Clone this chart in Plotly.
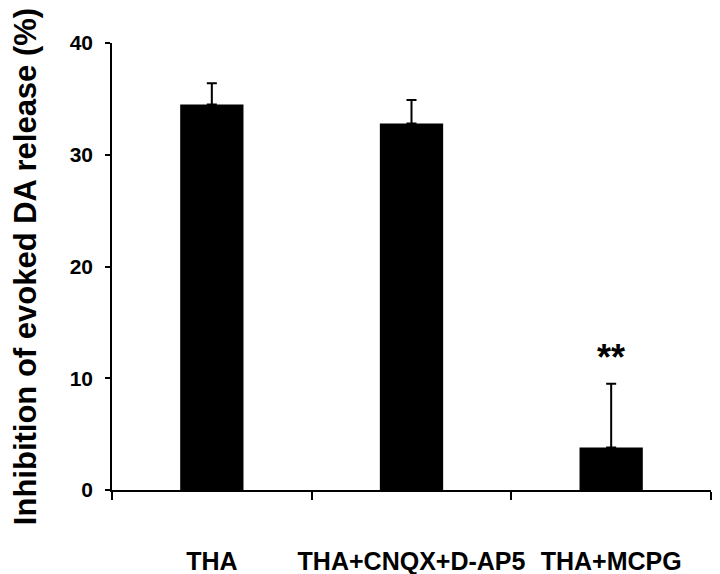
import plotly.graph_objects as go

categories = ["THA", "THA+CNQX+D-AP5", "THA+MCPG"]
inhibition = [34.5, 32.8, 3.8]
sem = [1.9, 2.1, 5.7]
significance = ["", "", "**"]
y_ticks = [0, 10, 20, 30, 40]

FONT = "Liberation Sans, Arial, Helvetica, sans-serif"

fig = go.Figure()
fig.add_trace(go.Bar(
    x=categories,
    y=inhibition,
    width=0.317,
    marker=dict(color="#000000", line=dict(width=0)),
    error_y=dict(type="data", array=sem, symmetric=False,
                 arrayminus=[0] * len(sem), color="#000000",
                 thickness=2, width=5),
    showlegend=False,
))

for c, v, e, s in zip(categories, inhibition, sem, significance):
    if s:
        fig.add_annotation(x=c, y=v + e, text=s, showarrow=False,
                           yanchor="bottom", yshift=4,
                           font=dict(family=FONT, size=36, color="#000000",
                                     weight="bold"))

fig.update_layout(
    width=720, height=574,
    margin=dict(l=104, r=17, t=35, b=92),
    paper_bgcolor="white", plot_bgcolor="white",
    font=dict(family=FONT, color="#000000"),
)
fig.update_xaxes(
    type="category", range=[-0.5, 2.5], automargin=False,
    showline=True, linecolor="#000000", linewidth=2,
    ticks="outside", tickson="boundaries", ticklen=8, tickwidth=1.5,
    tickcolor="#000000", tickangle=0,
    tickfont=dict(family=FONT, size=25, color="#000000", weight="bold"),
    ticklabelstandoff=48,
    showgrid=False, zeroline=False,
)
fig.update_yaxes(
    range=[0, 40], tickvals=y_ticks, automargin=False,
    showline=True, linecolor="#000000", linewidth=1.5,
    ticks="outside", ticklen=5, tickwidth=1.5, tickcolor="#000000",
    tickfont=dict(family=FONT, size=21, color="#000000", weight="bold"),
    ticklabelstandoff=8,
    showgrid=False, zeroline=False,
    title=dict(text="Inhibition of evoked DA release (%)",
               font=dict(family=FONT, size=31, color="#000000", weight="bold"),
               standoff=32),
)

fig.write_html("out.html")
